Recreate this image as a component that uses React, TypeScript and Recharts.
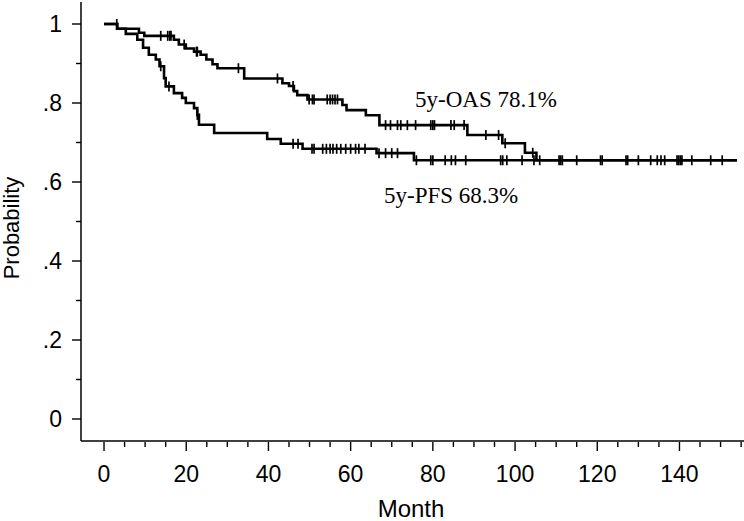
import React from 'react';
import { ComposedChart, Line, Scatter, XAxis, YAxis } from 'recharts';

// Overall survival (OAS) Kaplan-Meier steps
const oasMonths = [0, 3.2, 8.5, 9.8, 17.0, 18.2, 19.9, 21.9, 23.5, 24.9, 26.4, 27.6, 34.1, 43.4, 45.0, 46.2, 47.0, 49.5, 58.0, 59.0, 63.7, 67.0, 88.4, 96.9, 102.4, 105.2, 154.0];
const oasSurv = [1, 0.988, 0.978, 0.97, 0.96, 0.948, 0.938, 0.93, 0.922, 0.91, 0.898, 0.888, 0.862, 0.85, 0.843, 0.83, 0.82, 0.809, 0.795, 0.782, 0.769, 0.744, 0.719, 0.698, 0.674, 0.655, 0.655];
const oasCensorMonths = [3.1, 13.8, 15.5, 16.0, 16.3, 19.5, 22.5, 22.7, 32.7, 42.2, 46.0, 49.9, 50.7, 51.1, 54.3, 55.0, 55.6, 56.2, 56.8, 68.5, 69.7, 71.4, 72.2, 73.8, 75.8, 79.5, 80.0, 80.4, 84.4, 85.2, 87.6, 92.9, 96.0, 97.6, 104.3, 106.0, 110.7, 111.1, 111.5, 115.0, 120.8, 121.2, 127.0, 127.4];

// Progression-free survival (PFS) Kaplan-Meier steps
const pfsMonths = [0, 3.2, 5.3, 8.1, 9.5, 10.9, 12.6, 13.5, 14.6, 15.0, 17.0, 19.0, 19.9, 21.9, 22.7, 23.1, 26.8, 39.7, 43.0, 48.3, 66.3, 75.4, 154.0];
const pfsSurv = [1, 0.988, 0.975, 0.96, 0.94, 0.922, 0.91, 0.893, 0.863, 0.842, 0.825, 0.813, 0.8, 0.787, 0.77, 0.745, 0.724, 0.709, 0.697, 0.684, 0.673, 0.655, 0.655];
const pfsCensorMonths = [13.8, 15.8, 22.7, 46.0, 47.2, 50.6, 51.1, 53.2, 54.1, 55.0, 55.7, 56.6, 57.6, 58.8, 60.0, 61.2, 62.0, 63.5, 66.9, 68.5, 70.0, 71.4, 76.0, 79.5, 80.0, 83.0, 84.5, 85.5, 88.0, 96.5, 97.0, 98.0, 101.7, 104.6, 130.0, 133.0, 134.6, 135.5, 136.4, 139.4, 139.8, 140.2, 140.6, 143.0, 147.6, 150.4];

const xTicks = [0, 5, 10, 15, 20, 25, 30, 35, 40, 45, 50, 55, 60, 65, 70, 75, 80, 85, 90, 95, 100, 105, 110, 115, 120, 125, 130, 135, 140, 145, 150, 155];
const xMajorTicks = [0, 20, 40, 60, 80, 100, 120, 140];
const yTicks = [0, 0.1, 0.2, 0.3, 0.4, 0.5, 0.6, 0.7, 0.8, 0.9, 1];
const yMajorTicks = [0, 0.2, 0.4, 0.6, 0.8, 1];
const yMajorLabels = ['0', '.2', '.4', '.6', '.8', '1'];

const oasLabel = '5y-OAS 78.1%';
const pfsLabel = '5y-PFS 68.3%';

const SANS = '"Liberation Sans", Arial, Helvetica, sans-serif';
const SERIF = '"Liberation Serif", "Times New Roman", serif';

function survAt(months: number[], surv: number[], t: number): number {
  let v = surv[0];
  for (let i = 0; i < months.length; i++) {
    if (months[i] <= t) v = surv[i];
  }
  return v;
}

const oasData = oasMonths.map((t, i) => ({ t, p: oasSurv[i] }));
const pfsData = pfsMonths.map((t, i) => ({ t, p: pfsSurv[i] }));
const oasCensorData = oasCensorMonths.map((t) => ({ t, p: survAt(oasMonths, oasSurv, t) }));
const pfsCensorData = pfsCensorMonths.map((t) => ({ t, p: survAt(pfsMonths, pfsSurv, t) }));

const XTick = (props: any) => {
  const { x, y, payload } = props;
  const v = payload.value;
  const major = xMajorTicks.indexOf(v) >= 0;
  return (
    <g>
      <line x1={x} x2={x} y1={y + 1} y2={y + (major ? 10 : 6)} stroke="#000" strokeWidth={1.4} />
      {major && (
        <text x={x} y={y + 41} textAnchor="middle" fontSize={23} fontFamily={SANS} fill="#000">
          {v}
        </text>
      )}
    </g>
  );
};

const YTick = (props: any) => {
  const { x, y, payload } = props;
  const v = payload.value;
  const idx = yMajorTicks.findIndex((m) => Math.abs(m - v) < 1e-6);
  const major = idx >= 0;
  return (
    <g>
      <line x1={x} x2={x - (major ? 9 : 5)} y1={y} y2={y} stroke="#000" strokeWidth={1.4} />
      {major && (
        <text x={x - 19} y={y} dy="0.36em" textAnchor="end" fontSize={23} fontFamily={SANS} fill="#000">
          {yMajorLabels[idx]}
        </text>
      )}
    </g>
  );
};

const CensorMark = (props: any) => {
  const { cx, cy } = props;
  if (cx == null || cy == null) return null;
  return <line x1={cx} x2={cx} y1={cy - 5} y2={cy + 5} stroke="#000" strokeWidth={1.7} />;
};

export default function App() {
  return (
    <div style={{ position: 'absolute', left: 0, top: 0, width: 744, height: 521, background: '#fff' }}>
      <ComposedChart width={744} height={521} margin={{ top: 2, right: 0, bottom: 0, left: 0 }}>
        <XAxis
          type="number"
          dataKey="t"
          domain={[-5.6, 155.7]}
          ticks={xTicks}
          interval={0}
          tickSize={0}
          tickMargin={0}
          tick={<XTick />}
          axisLine={{ stroke: '#000', strokeWidth: 1.5 }}
          height={80}
          allowDataOverflow
        />
        <YAxis
          type="number"
          dataKey="p"
          domain={[-0.0557, 1.0557]}
          ticks={yTicks}
          interval={0}
          tickSize={0}
          tickMargin={0}
          tick={<YTick />}
          axisLine={{ stroke: '#000', strokeWidth: 1.5 }}
          width={81}
          allowDataOverflow
        />
        <Line data={oasData} dataKey="p" type="stepAfter" stroke="#000" strokeWidth={2.6} dot={false} isAnimationActive={false} />
        <Line data={pfsData} dataKey="p" type="stepAfter" stroke="#000" strokeWidth={2.6} dot={false} isAnimationActive={false} />
        <Scatter data={oasCensorData} dataKey="p" shape={<CensorMark />} isAnimationActive={false} />
        <Scatter data={pfsCensorData} dataKey="p" shape={<CensorMark />} isAnimationActive={false} />
      </ComposedChart>
      <svg width={744} height={521} style={{ position: 'absolute', left: 0, top: 0, pointerEvents: 'none' }}>
        <text x={19} y={228} transform="rotate(-90 19 228)" textAnchor="middle" fontSize={22} fontFamily={SANS} fill="#000">
          Probability
        </text>
        <text x={411} y={517} textAnchor="middle" fontSize={24} fontFamily={SANS} fill="#000">
          Month
        </text>
        <text x={415} y={107} fontSize={23} fontFamily={SERIF} fill="#000">
          {oasLabel}
        </text>
        <text x={384} y={203} fontSize={23} fontFamily={SERIF} fill="#000">
          {pfsLabel}
        </text>
      </svg>
    </div>
  );
}
